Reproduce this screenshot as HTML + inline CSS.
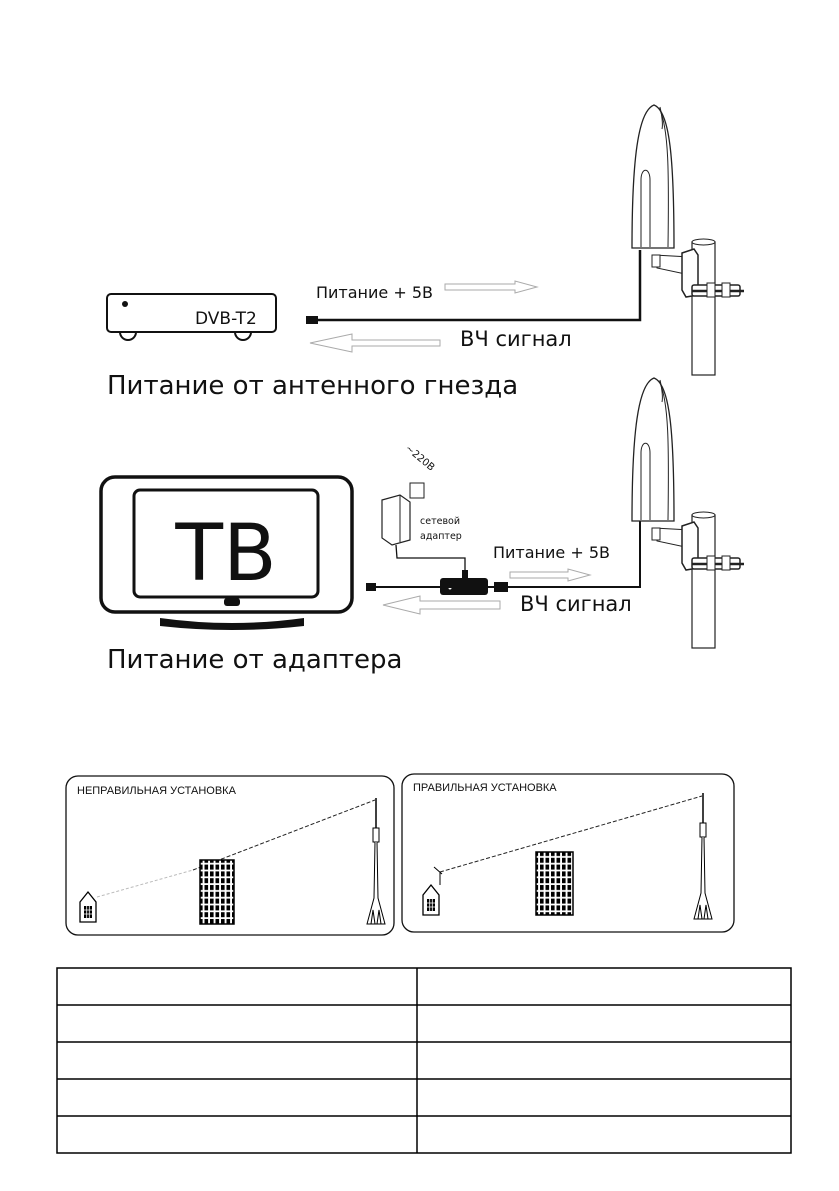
<!DOCTYPE html>
<html><head><meta charset="utf-8"><style>
html,body{margin:0;padding:0;background:#fff}
svg{display:block}
text{font-family:"DejaVu Sans","Liberation Sans",sans-serif;fill:#111}
</style></head><body>
<svg width="839" height="1191" viewBox="0 0 839 1191" xmlns="http://www.w3.org/2000/svg">
<defs>
<g id="ant">
  <path d="M22 0 C6 6 0 55 0 143 L42 143 C42 55 38 6 22 0 Z" fill="#fff" stroke="#222" stroke-width="1.3"/>
  <path d="M27 3 C37 22 37 70 36 142" fill="none" stroke="#222" stroke-width="1"/>
  <path d="M28 2 C30 10 31 20 30 24" fill="none" stroke="#222" stroke-width="1"/>
  <path d="M9 142 L9 75 C9 62 18 62 18 75 L18 142" fill="none" stroke="#222" stroke-width="1"/>
  <rect x="60" y="137" width="23" height="133" fill="#fff" stroke="#222" stroke-width="1.2"/>
  <ellipse cx="71.5" cy="137" rx="11.5" ry="3" fill="#fff" stroke="#222"/>
  <path d="M22 150 L58 152 L58 170 L25 163 Z" fill="#fff" stroke="#222"/>
  <rect x="20" y="150" width="8" height="12" fill="#fff" stroke="#222"/>
  <path d="M50 148 L62 144 L66 150 L66 190 L54 192 L50 185 Z" fill="#fff" stroke="#222" stroke-width="1.5"/>
  <rect x="60" y="180" width="48" height="11" rx="2" fill="#fff" stroke="#222" stroke-width="1.5"/>
  <line x1="60" y1="186" x2="112" y2="186" stroke="#222" stroke-width="2.5"/>
  <rect x="75" y="178" width="8" height="14" fill="#fff" stroke="#222"/>
  <rect x="90" y="178" width="8" height="14" fill="#fff" stroke="#222"/>
</g>
<g id="house">
  <path d="M0 10 L8 0 L16 10 L16 30 L0 30 Z" fill="#fff" stroke="#000" stroke-width="1.3"/>
  <rect x="4" y="14" width="8" height="12" fill="#000"/>
  <path d="M4 18h8M4 22h8M6.7 14v12M9.3 14v12" stroke="#fff" stroke-width="0.8"/>
</g>
<pattern id="win" x="0" y="0" width="5.5" height="6.8" patternUnits="userSpaceOnUse">
  <rect width="5.5" height="6.8" fill="#fff"/><rect x="1" y="1" width="3.6" height="5" fill="#000"/>
</pattern>
<g id="tower">
  <line x1="0" y1="0" x2="0" y2="30" stroke="#000" stroke-width="1.5"/>
  <rect x="-3" y="30" width="6" height="14" fill="#fff" stroke="#000"/>
  <path d="M-1 44 L-2 100 L-9 126 L9 126 L2 100 L1 44" fill="#fff" stroke="#000"/>
  <path d="M-5 126 L-3 112 L-1 126 M1 126 L3 112 L5 126" fill="none" stroke="#000"/>
</g>
</defs>

<!-- Section 1 -->
<rect x="107" y="294" width="169" height="38" rx="4" fill="#fff" stroke="#111" stroke-width="2"/>
<circle cx="125" cy="304" r="3" fill="#111"/>
<path d="M120 332 a8 8 0 0 0 16 0 M235 332 a8 8 0 0 0 16 0" fill="none" stroke="#111" stroke-width="2"/>
<text x="195" y="324" font-size="17">DVB-T2</text>
<rect x="306" y="316" width="12" height="8" fill="#111"/>
<polyline points="318,320 640,320 640,250" fill="none" stroke="#111" stroke-width="2.5"/>
<use href="#ant" x="632" y="105"/>
<text x="316" y="298" font-size="16">Питание + 5В</text>
<path d="M445 284 L515 284 L515 281 L537 287 L515 293 L515 290 L445 290 Z" fill="#fff" stroke="#aaa"/>
<text x="460" y="346" font-size="21">ВЧ сигнал</text>
<path d="M440 340 L352 340 L352 334 L310 343 L352 352 L352 346 L440 346 Z" fill="#fff" stroke="#aaa"/>
<text x="107" y="394" font-size="26">Питание  от антенного гнезда</text>

<!-- Section 2 -->
<rect x="101" y="477" width="251" height="135" rx="14" fill="#fff" stroke="#111" stroke-width="3.5"/>
<rect x="134" y="490" width="184" height="107" rx="6" fill="#fff" stroke="#111" stroke-width="3"/>
<text x="226" y="580" font-size="78" text-anchor="middle">ТВ</text>
<rect x="224" y="598" width="16" height="8" rx="3" fill="#111"/>
<path d="M160 618 Q232 628 304 618 L304 626 Q232 634 160 626 Z" fill="#111"/>
<text x="393" y="450" font-size="10" transform="rotate(40 400 466)">~220В</text>
<rect x="410" y="483" width="14" height="15" fill="#fff" stroke="#222"/>
<path d="M382 500 L400 495 L410 502 L410 540 L392 545 L382 538 Z" fill="#fff" stroke="#222" stroke-width="1.2"/>
<line x1="400" y1="495" x2="400" y2="542" stroke="#222"/>
<text x="420" y="524" font-size="9.5">сетевой</text>
<text x="420" y="539" font-size="9.5">адаптер</text>
<polyline points="396,545 397,558 465,558 465,572" fill="none" stroke="#111" stroke-width="1.3"/>
<rect x="462" y="570" width="6" height="8" fill="#111"/>
<rect x="440" y="578" width="48" height="17" rx="3" fill="#111"/>
<circle cx="450" cy="588" r="1.5" fill="#fff"/>
<rect x="366" y="583" width="10" height="8" fill="#111"/>
<polyline points="376,587 640,587 640,520" fill="none" stroke="#111" stroke-width="2"/>
<rect x="494" y="582" width="14" height="10" fill="#111"/>
<use href="#ant" x="632" y="378"/>
<text x="493" y="558" font-size="16">Питание + 5В</text>
<path d="M510 572 L568 572 L568 569 L590 575 L568 581 L568 578 L510 578 Z" fill="#fff" stroke="#aaa"/>
<text x="520" y="611" font-size="21">ВЧ сигнал</text>
<path d="M500 601 L420 601 L420 596 L383 605 L420 614 L420 609 L500 609 Z" fill="#fff" stroke="#aaa"/>
<text x="107" y="668" font-size="26">Питание от адаптера</text>

<!-- Section 3 -->
<rect x="66" y="776" width="328" height="159" rx="12" fill="#fff" stroke="#111" stroke-width="1.3"/>
<rect x="402" y="774" width="332" height="158" rx="12" fill="#fff" stroke="#111" stroke-width="1.3"/>
<text x="77" y="794" font-size="11" style="font-family:'Liberation Sans',sans-serif">НЕПРАВИЛЬНАЯ УСТАНОВКА</text>
<text x="413" y="791" font-size="11" style="font-family:'Liberation Sans',sans-serif">ПРАВИЛЬНАЯ УСТАНОВКА</text>
<line x1="97" y1="897" x2="193" y2="870" stroke="#bbb" stroke-dasharray="3,2"/>
<line x1="193" y1="870" x2="375" y2="800" stroke="#222" stroke-dasharray="4,2"/>
<use href="#house" x="80" y="892"/>
<rect x="200" y="860" width="34" height="64" fill="url(#win)" stroke="#000" stroke-width="1.5"/>
<use href="#tower" x="376" y="798"/>
<line x1="440" y1="872" x2="702" y2="796" stroke="#222" stroke-dasharray="4,2"/>
<line x1="440" y1="872" x2="440" y2="885" stroke="#000"/>
<line x1="434" y1="867" x2="442" y2="874" stroke="#000"/>
<use href="#house" x="423" y="885"/>
<rect x="536" y="852" width="37" height="63" fill="url(#win)" stroke="#000" stroke-width="1.5"/>
<use href="#tower" x="703" y="793"/>

<!-- Table -->
<g stroke="#000" stroke-width="1.5" fill="none">
<rect x="57" y="968" width="734" height="185"/>
<line x1="417" y1="968" x2="417" y2="1153"/>
<line x1="57" y1="1005" x2="791" y2="1005"/>
<line x1="57" y1="1042" x2="791" y2="1042"/>
<line x1="57" y1="1079" x2="791" y2="1079"/>
<line x1="57" y1="1116" x2="791" y2="1116"/>
</g>
</svg>
</body></html>
